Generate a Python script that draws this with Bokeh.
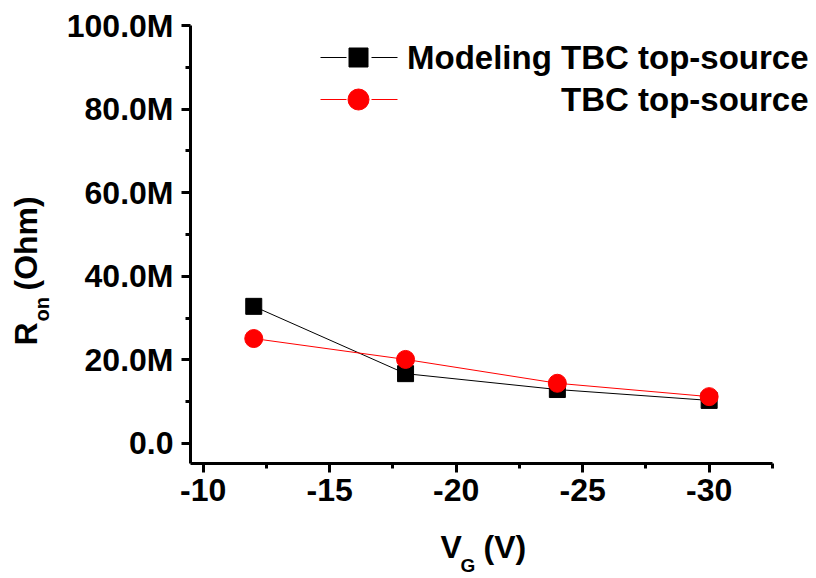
import math
from bokeh.plotting import figure
from bokeh.models import Range1d, FixedTicker, Label
from bokeh.layouts import row, column
from bokeh.embed import file_html
from bokeh.resources import INLINE

# ---- data ----
vg = [-12, -18, -24, -30]
r_model = [32.8e6, 16.7e6, 12.9e6, 10.3e6]
r_meas = [25.1e6, 20.1e6, 14.4e6, 11.2e6]
series_names = ["Modeling TBC top-source", "TBC top-source"]

x_ticks = [-10, -15, -20, -25, -30]
x_minor = [-12.5, -17.5, -22.5, -27.5, -32.5]
x_tick_labels = ["-10", "-15", "-20", "-25", "-30"]
y_ticks = [0, 20e6, 40e6, 60e6, 80e6, 100e6]
y_minor = [10e6, 30e6, 50e6, 70e6, 90e6]
y_tick_labels = ["0.0", "20.0M", "40.0M", "60.0M", "80.0M", "100.0M"]

# ---- layout (canvas pixels) ----
W, H = 816, 578
LEFT_W = 60          # strip holding the y title
MAIN_H = 525         # main plot height; strip below holds the x title
FL, FR, FT, FB = 190, 816, 25, 463      # plot frame in canvas pixels
AXIS_END_PX = 772                        # where the x axis line stops
X0 = -9.5
PX_PER_X = (708 - 202) / 20.0            # pixels per volt
X1 = X0 - (FR - FL) / PX_PER_X
XAX_END = X0 - (AXIS_END_PX - FL) / PX_PER_X
Y0, Y1 = -4.8e6, 100e6
FONT = "Liberation Sans"


def sx(px):
    return X0 + (px - FL) / (FR - FL) * (X1 - X0)


def sy(py):
    return Y0 + (FB - py) / (FB - FT) * (Y1 - Y0)


p = figure(width=W - LEFT_W, height=MAIN_H, output_backend="svg", toolbar_location=None,
           x_range=Range1d(X0, X1), y_range=Range1d(Y0, Y1),
           min_border_left=FL - LEFT_W, min_border_right=0,
           min_border_top=FT, min_border_bottom=MAIN_H - FB)
p.outline_line_color = None
p.xgrid.visible = False
p.ygrid.visible = False
p.background_fill_color = "white"
p.border_fill_color = "white"

for ax, ticks, minor, labels in ((p.xaxis[0], x_ticks, x_minor, x_tick_labels),
                                 (p.yaxis[0], y_ticks, y_minor, y_tick_labels)):
    ax.ticker = FixedTicker(ticks=ticks, minor_ticks=minor)
    ax.major_label_overrides = {t: l for t, l in zip(ticks, labels)}
    ax.axis_line_width = 3
    ax.major_tick_line_width = 3
    ax.minor_tick_line_width = 3
    ax.major_tick_in = 0
    ax.major_tick_out = 9
    ax.minor_tick_in = 0
    ax.minor_tick_out = 5
    ax.major_label_text_font = FONT
    ax.major_label_text_font_style = "bold"
    ax.major_label_text_font_size = "32px"
    ax.major_label_text_color = "black"
    ax.major_label_standoff = 6
p.yaxis[0].major_label_standoff = 8
p.xaxis[0].bounds = (X0, XAX_END)

# ---- data series ----
p.line(vg, r_model, line_color="black", line_width=1)
p.line(vg, r_meas, line_color="#ff0000", line_width=1)
p.scatter(vg, r_model, marker="square", size=16, fill_color="black", line_color="black")
p.scatter(vg, r_meas, marker="circle", size=18, fill_color="#ff0000", line_color="#ff0000")

# ---- legend (manual, right aligned labels) ----
leg_rows = [57, 99]
leg_styles = [("black", "square", 19), ("#ff0000", "circle", 21)]
for name, r, (col, mk, sz) in zip(series_names, leg_rows, leg_styles):
    for a0, a1 in ((320, 346), (371, 397)):
        p.line([sx(a0), sx(a1)], [sy(r), sy(r)], line_color=col, line_width=1)
    p.scatter([sx(358)], [sy(r)], marker=mk, size=sz, fill_color=col, line_color=col)
    p.add_layout(Label(x=sx(808), y=sy(r), text=name, text_align="right",
                       text_baseline="middle", text_font=FONT, text_font_style="bold",
                       text_font_size="33px", text_color="black"))


def strip(w, h, xr, yr):
    f = figure(width=w, height=h, output_backend="svg", toolbar_location=None,
               x_range=Range1d(*xr), y_range=Range1d(*yr),
               x_axis_type=None, y_axis_type=None, min_border=0)
    f.outline_line_color = None
    f.xgrid.visible = False
    f.ygrid.visible = False
    f.background_fill_color = "white"
    f.border_fill_color = "white"
    return f


BASE_SHIFT = 0.44   # empirical shift of Bokeh's alphabetic anchor, in em


def lab(f, x, y, text, size, angle=0.0):
    d = BASE_SHIFT * size
    if angle:
        x = x - d
    else:
        y = y - d
    f.add_layout(Label(x=x, y=y, text=text, angle=angle,
                       text_align="left", text_baseline="alphabetic",
                       text_font=FONT, text_font_style="bold",
                       text_font_size=f"{size}px", text_color="black"))


# x title strip (its frame is aligned with the main frame: canvas x FL..W)
xf = strip(W - LEFT_W, H - MAIN_H, (FL, W), (H, MAIN_H))
lab(xf, 440, 561, "V", 32)
lab(xf, 460, 573, "G", 19)
lab(xf, 483, 561, "(V)", 32)

# y title strip: R_on (Ohm), rotated
yf = strip(LEFT_W, H, (0, LEFT_W), (H, 0))
a = math.pi / 2
lab(yf, 40, 345, "R", 32, a)
lab(yf, 50, 321, "on", 20, a)
lab(yf, 40, 290, "(Ohm)", 32, a)

layout = row(yf, column(p, xf))
open("out.html", "w").write(file_html(layout, INLINE))
